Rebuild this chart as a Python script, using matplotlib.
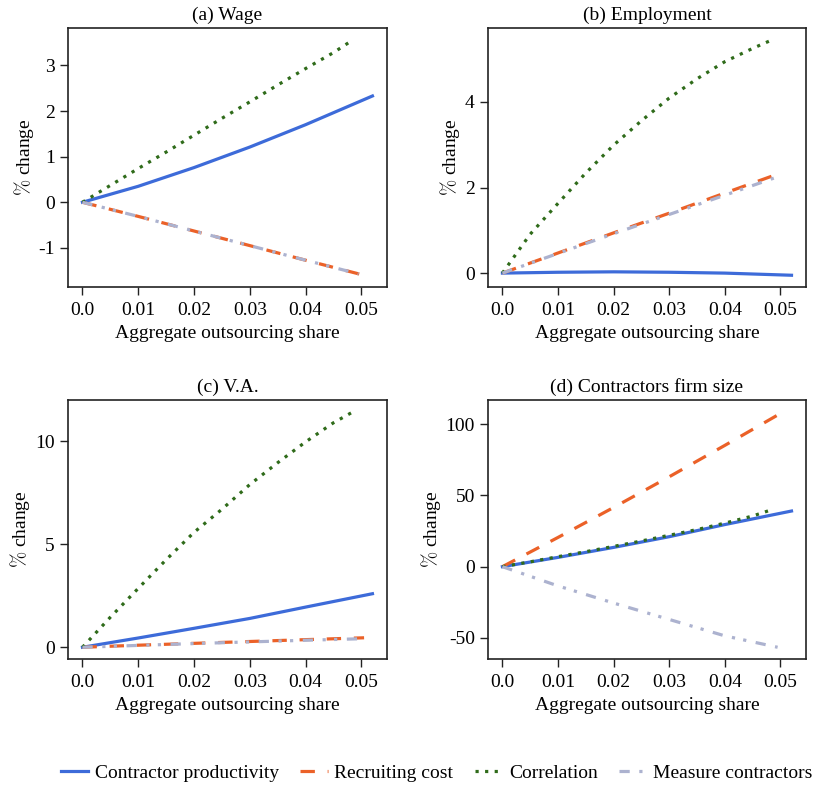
import numpy as np
import matplotlib
matplotlib.use("Agg")
import matplotlib.pyplot as plt
from matplotlib.lines import Line2D

plt.rcParams['font.family'] = 'serif'
plt.rcParams['font.serif'] = ['Liberation Serif', 'DejaVu Serif']
plt.rcParams['mathtext.fontset'] = 'cm'
plt.rcParams['axes.unicode_minus'] = False
plt.rcParams['font.size'] = 14

# series names and x grids (aggregate outsourcing share)
series = ["Contractor productivity", "Recruiting cost", "Correlation", "Measure contractors"]
x_prod = [0, 0.01, 0.02, 0.03, 0.04, 0.052]
x_recr = [0, 0.01, 0.02, 0.03, 0.04, 0.0505]
x_corr = [0, 0.005, 0.01, 0.015, 0.02, 0.025, 0.03, 0.035, 0.04, 0.045, 0.0485]
x_meas = [0, 0.01, 0.02, 0.03, 0.04, 0.0495]

# (a) Wage
wage_prod = [0, 0.35, 0.76, 1.21, 1.70, 2.33]
wage_recr = [0, -0.31, -0.63, -0.95, -1.27, -1.60]
wage_corr = [0, 0.37, 0.74, 1.10, 1.47, 1.84, 2.20, 2.57, 2.93, 3.28, 3.56]
wage_meas = [0, -0.31, -0.63, -0.95, -1.27, -1.57]

# (b) Employment
emp_prod = [0, 0.02, 0.03, 0.02, 0.0, -0.05]
emp_recr = [0, 0.47, 0.94, 1.40, 1.87, 2.36]
emp_corr = [0, 0.91, 1.63, 2.34, 2.99, 3.56, 4.09, 4.54, 4.94, 5.25, 5.45]
emp_meas = [0, 0.46, 0.92, 1.37, 1.82, 2.25]

# (c) V.A.
va_prod = [0, 0.45, 0.92, 1.40, 1.95, 2.60]
va_recr = [0, 0.10, 0.19, 0.28, 0.37, 0.46]
va_corr = [0, 1.46, 2.86, 4.25, 5.58, 6.70, 7.90, 8.96, 9.97, 10.9, 11.43]
va_meas = [0, 0.09, 0.18, 0.26, 0.34, 0.41]

# (d) Contractors firm size
size_prod = [0, 6.5, 13.5, 21, 29.5, 39]
size_recr = [0, 20.5, 41.5, 63, 85, 108.5]
size_corr = [0, 3.4, 7, 10.5, 14.2, 18, 22, 26, 30.5, 35.5, 40]
size_meas = [0, -13.5, -25.5, -37, -48.5, -56.5]

titles = ["(a) Wage", "(b) Employment", "(c) V.A.", "(d) Contractors firm size"]
yticks = [[-1, 0, 1, 2, 3], [0, 2, 4], [0, 5, 10], [-50, 0, 50, 100]]
xticks = [0, 0.01, 0.02, 0.03, 0.04, 0.05]
xticklabels = ["0.0", "0.01", "0.02", "0.03", "0.04", "0.05"]

panels = [
    (wage_prod, wage_recr, wage_corr, wage_meas),
    (emp_prod, emp_recr, emp_corr, emp_meas),
    (va_prod, va_recr, va_corr, va_meas),
    (size_prod, size_recr, size_corr, size_meas),
]

colors = ['#3D6BD9', '#EB6128', '#2F6B1A', '#ACB2CF']
styles = [dict(linestyle='-'),
          dict(linestyle=(0, (4.5, 4.0))),
          dict(linestyle=(0, (1.0, 2.0))),
          dict(linestyle=(0, (3.2, 3.0, 1.0, 2.6, 1.0, 3.0)))]
lw = 2.3

fig = plt.figure(figsize=(8.16, 7.87), dpi=100)
positions = [
    [0.0833, 0.6353, 0.3909, 0.3290],
    [0.5980, 0.6353, 0.3897, 0.3290],
    [0.0833, 0.1626, 0.3909, 0.3290],
    [0.5980, 0.1626, 0.3897, 0.3290],
]

for i, (pos, data) in enumerate(zip(positions, panels)):
    ax = fig.add_axes(pos)
    xs = [x_prod, x_recr, x_corr, x_meas]
    for x, y, c, st in zip(xs, data, colors, styles):
        ax.plot(x, y, color=c, lw=lw, **st)
    ax.set_title(titles[i], fontsize=14, pad=6)
    ax.set_xticks(xticks)
    ax.set_xticklabels(xticklabels)
    ax.set_yticks(yticks[i])
    ax.set_xlabel("Aggregate outsourcing share", fontsize=14, labelpad=4)
    ax.set_ylabel(r"$\%$ change", fontsize=14, labelpad=2)
    ax.tick_params(direction='out', length=6, width=1, labelsize=14, color='#222222')
    ax.tick_params(axis='x', pad=5)
    for sp in ax.spines.values():
        sp.set_linewidth(1.2)
        sp.set_color('#222222')

handles = [Line2D([], [], color=c, lw=lw, **st) for c, st in zip(colors, styles)]
fig.legend(handles, series, loc='center', bbox_to_anchor=(0.535, 0.018), ncol=4,
           frameon=False, fontsize=14, handlelength=1.4, columnspacing=1.1, handletextpad=0.35)

fig.savefig("out.png", dpi=100)
